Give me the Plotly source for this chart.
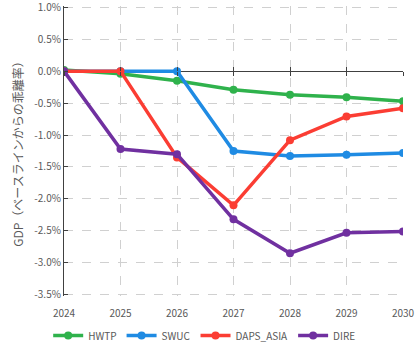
import plotly.graph_objects as go

years = [2024, 2025, 2026, 2027, 2028, 2029, 2030]
hwtp = [0.02, -0.04, -0.15, -0.29, -0.37, -0.41, -0.47]
swuc = [0.00, 0.00, 0.00, -1.25, -1.33, -1.31, -1.28]
daps_asia = [0.00, 0.00, -1.35, -2.10, -1.08, -0.71, -0.58]
dire = [0.00, -1.22, -1.30, -2.32, -2.85, -2.53, -2.51]

series = [
    ("HWTP", hwtp, "#2fb24c"),
    ("SWUC", swuc, "#1f8be3"),
    ("DAPS_ASIA", daps_asia, "#fb3d33"),
    ("DIRE", dire, "#7030a0"),
]

y_ticks = [1.0, 0.5, 0.0, -0.5, -1.0, -1.5, -2.0, -2.5, -3.0, -3.5]
y_min, y_max = -3.52, 1.02

fig = go.Figure()
for name, vals, color in series:
    fig.add_trace(go.Scatter(
        x=years, y=vals, name=name, mode="lines+markers",
        line=dict(color=color, width=3.5),
        marker=dict(color=color, size=8),
    ))

font_main = "Noto Sans CJK JP, Noto Sans, sans-serif"
grid = dict(showgrid=True, gridcolor="#d0d0d0", griddash="dash", gridwidth=1)
zero_pos = (0 - y_min) / (y_max - y_min)

fig.update_layout(
    width=416, height=346,
    margin=dict(l=64, r=13, t=6, b=50, autoexpand=False),
    paper_bgcolor="white", plot_bgcolor="white",
    font=dict(family=font_main, color="#595959", size=10),
    showlegend=True,
    legend=dict(orientation="h", x=0.415, xanchor="center",
                yref="container", y=0.03, yanchor="middle",
                bgcolor="rgba(0,0,0,0)",
                font=dict(size=10, color="#595959"), itemwidth=30,
                tracegroupgap=0),
    xaxis=dict(range=[2024, 2030], tickvals=years, **grid,
               showline=False, zeroline=False, ticks="",
               ticklabelstandoff=10, ticklabeloverflow="allow",
               tickfont=dict(size=10, color="#595959")),
    yaxis=dict(range=[y_min, y_max], tickvals=y_ticks,
               ticktext=[f"{v:.1f}%" for v in y_ticks], **grid,
               ticklabeloverflow="allow",
               showline=True, linecolor="#404040", linewidth=1.2,
               ticks="inside", ticklen=4, tickcolor="#404040",
               zeroline=True, zerolinecolor="#404040", zerolinewidth=1.2,
               title=dict(text="GDP（ベースラインからの乖離率）", standoff=8,
                          font=dict(size=12, color="#595959")),
               tickfont=dict(size=10, color="#595959")),
    # category axis drawn across the zero level, with crossing tick marks
    xaxis2=dict(range=[2024, 2030], tickvals=years, overlaying="x",
                anchor="free", position=zero_pos, showticklabels=False,
                showgrid=False, zeroline=False, showline=False,
                ticks="outside", ticklen=4, tickcolor="#404040"),
    xaxis3=dict(range=[2024, 2030], tickvals=years, overlaying="x",
                anchor="free", position=zero_pos, showticklabels=False,
                showgrid=False, zeroline=False, showline=False,
                ticks="inside", ticklen=4, tickcolor="#404040"),
)

# invisible helpers so the zero-level axes are rendered
for ax in ("x2", "x3"):
    fig.add_trace(go.Scatter(x=[2024], y=[0], xaxis=ax, mode="markers",
                             marker=dict(opacity=0), showlegend=False,
                             hoverinfo="skip"))

fig.write_html("out.html")
